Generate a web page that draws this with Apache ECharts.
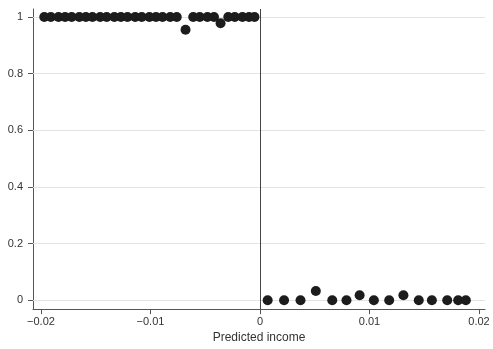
<!DOCTYPE html>
<html><head><meta charset="utf-8">
<script src="https://cdn.jsdelivr.net/npm/echarts@6/dist/echarts.min.js"></script>
<style>html,body{margin:0;padding:0;background:#fff}#c{width:493px;height:349px}</style>
</head><body><div id="c"></div>
<script>
// Left of cutoff (predicted income < 0)
const leftX = [-0.0197,-0.0191,-0.0184,-0.0178,-0.0172,-0.0165,-0.0159,-0.0153,-0.0146,-0.0140,-0.0133,-0.0127,-0.0121,-0.0114,-0.0108,-0.0101,-0.0095,-0.0089,-0.0082,-0.0076,-0.0068,-0.0061,-0.0055,-0.0048,-0.0042,-0.0036,-0.0029,-0.0023,-0.0016,-0.0010,-0.0005];
const leftY = [1,1,1,1,1,1,1,1,1,1,1,1,1,1,1,1,1,1,1,1,0.955,1,1,1,1,0.978,1,1,1,1,1];
// Right of cutoff
const rightX = [0.0007,0.0022,0.0037,0.0051,0.0066,0.0079,0.0091,0.0104,0.0118,0.0131,0.0145,0.0157,0.0171,0.0181,0.0188];
const rightY = [0,0,0,0.033,0,0,0.018,0,0,0.018,0,0,0,0,0];
const xTicks = [-0.02,-0.01,0,0.01,0.02];
const yTicks = [0,0.2,0.4,0.6,0.8,1];

const pts = leftX.map((x,i)=>[x,leftY[i]]).concat(rightX.map((x,i)=>[x,rightY[i]]));
const fmt = v => { const s = String(Math.round(v*1000)/1000); return s.replace('-', '\u2212'); };
const font = 'Liberation Sans, Arial, sans-serif';
const chart = echarts.init(document.getElementById('c'), null, {renderer:'canvas'});
chart.setOption({
  animation:false,
  grid:{left:33,right:8,top:9,bottom:36},
  xAxis:{type:'value',min:-0.02073,max:0.02055,
    axisLine:{onZero:false,lineStyle:{color:'#555',width:1}},
    axisTick:{length:5,customValues:xTicks,lineStyle:{color:'#555'}},
    axisLabel:{customValues:xTicks,formatter:fmt,color:'#333',fontSize:11,fontFamily:font,margin:7},
    splitLine:{show:false},
    name:'Predicted income',nameLocation:'middle',nameGap:22,
    nameTextStyle:{color:'#333',fontSize:12,fontFamily:font}},
  yAxis:{type:'value',min:-0.031,max:1.028,
    axisLine:{show:true,onZero:false,lineStyle:{color:'#555',width:1}},
    axisTick:{show:true,length:5,customValues:yTicks,lineStyle:{color:'#555'}},
    axisLabel:{customValues:yTicks,formatter:fmt,color:'#333',fontSize:11,fontFamily:font,margin:10},
    splitLine:{show:false}},
  series:[{type:'scatter',data:pts,symbolSize:10,itemStyle:{color:'#1c1c1c',opacity:1},z:5,
    markLine:{silent:true,symbol:'none',label:{show:false},animation:false,
      data:yTicks.map(v=>({yAxis:v,lineStyle:{color:'#e3e3e3',width:1,type:'solid'}}))
        .concat([{xAxis:0,lineStyle:{color:'#444',width:1,type:'solid'}}])}}]
});
</script></body></html>
